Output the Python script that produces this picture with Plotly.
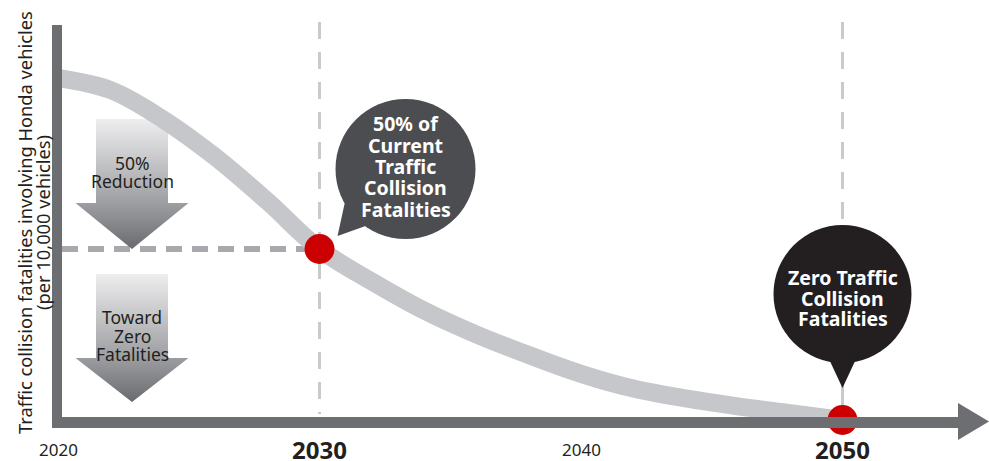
import plotly.graph_objects as go

# ---------------- data ----------------
years = [2020, 2022, 2024, 2026, 2028, 2030, 2032, 2034, 2036, 2038,
         2040, 2042, 2044, 2046, 2048, 2050]
fatalities = [100, 96.5, 88, 77, 64, 50, 40.5, 32, 25, 19,
              13.5, 9.2, 6.3, 4.0, 2.0, 0]
milestone_years = [2030, 2050]
milestone_values = [50, 0]
tick_years = [2020, 2030, 2040, 2050]
tick_labels = ["2020", "2030", "2040", "2050"]
tick_bold = [False, True, False, True]
bubble_texts = [["50% of", "Current", "Traffic", "Collision", "Fatalities"],
                ["Zero Traffic", "Collision", "Fatalities"]]
arrow_texts = [["50%", "Reduction"], ["Toward", "Zero", "Fatalities"]]
y_title = ["Traffic collision fatalities involving Honda vehicles",
           "(per 10,000 vehicles)"]

# ---------------- layout geometry ----------------
W, H = 989, 461
X0_PX, PX_PER_YEAR = 58, 26.15
Y0_PX, PX_PER_UNIT = 420, 3.42
FONT = "Noto Sans"
DARK = "#231f20"


def X(px):
    return 2020 + (px - X0_PX) / PX_PER_YEAR


def Y(py):
    return (Y0_PX - py) / PX_PER_UNIT


x_range = [X(0), X(W)]
y_range = [Y(H), Y(0)]

fig = go.Figure()

# gradient down arrows
arrow_cx = X(132)
half_shaft = 36 / PX_PER_YEAR
half_head = 56.5 / PX_PER_YEAR
arrow_specs = [(Y(119), Y(203), milestone_values[0]), (Y(274), Y(358), Y(402))]
for top, base, tip in arrow_specs:
    xs = [arrow_cx - half_shaft, arrow_cx + half_shaft, arrow_cx + half_shaft,
          arrow_cx + half_head, arrow_cx, arrow_cx - half_head,
          arrow_cx - half_shaft, arrow_cx - half_shaft]
    ys = [top, top, base, base, tip, base, base, top]
    fig.add_trace(go.Scatter(
        x=xs, y=ys, mode="lines", fill="toself", line=dict(width=0),
        fillgradient=dict(type="vertical",
                          colorscale=[[0, "#6a6b6f"], [0.35, "#9d9ea1"], [1, "#eeeeef"]]),
        hoverinfo="skip", showlegend=False))

# main curve
fig.add_trace(go.Scatter(
    x=years, y=fatalities, mode="lines",
    line=dict(color="#c6c7ca", width=18, shape="spline", smoothing=1.0),
    hoverinfo="skip", showlegend=False))

shapes = []
# dashed guide lines
for yr in milestone_years:
    shapes.append(dict(type="line", xref="x", yref="y", x0=yr, x1=yr,
                       y0=Y(22), y1=Y(414), layer="below",
                       line=dict(color="#c9cacc", width=3, dash="17px,13px")))
shapes.append(dict(type="line", xref="x", yref="y", x0=milestone_years[1], x1=milestone_years[1],
                   y0=Y(386), y1=milestone_values[1], layer="below",
                   line=dict(color="#c9cacc", width=3)))
shapes.append(dict(type="line", xref="x", yref="y", x0=X(62), x1=milestone_years[0],
                   y0=milestone_values[0], y1=milestone_values[0], layer="below",
                   line=dict(color="#a8a9ac", width=6, dash="16px,10px")))

# axes bars
AXIS = "#6d6e72"
shapes.append(dict(type="line", xref="x", yref="y", x0=X(57), x1=X(57),
                   y0=Y(25), y1=Y(427), layer="above", line=dict(color=AXIS, width=10)))
shapes.append(dict(type="line", xref="x", yref="y", x0=X(52), x1=X(962),
                   y0=Y(422.5), y1=Y(422.5), layer="above", line=dict(color=AXIS, width=11)))
shapes.append(dict(type="path", xref="x", yref="y", layer="above",
                   path=f"M {X(958)},{Y(403)} L {X(989)},{Y(421.5)} L {X(958)},{Y(440)} Z",
                   fillcolor=AXIS, line=dict(width=0)))

# speech bubbles (pixel offsets relative to milestone dots)
bubble_specs = [
    dict(dx=86, dy=80, r=70, color="#4c4d51",
         tail="M 46,23 L 18,13 L 25,45 L 86,80 Z", text_dy=2.5, spacing=21.3),
    dict(dx=0, dy=126, r=69, color="#231f20",
         tail="M -14,62 L 0,32 L 14,62 L 0,126 Z", text_dy=-4, spacing=20.5),
]
for (yr, val), b in zip(zip(milestone_years, milestone_values), bubble_specs):
    shapes.append(dict(type="circle", xref="x", yref="y", layer="above",
                       xsizemode="pixel", ysizemode="pixel", xanchor=yr, yanchor=val,
                       x0=b["dx"] - b["r"], x1=b["dx"] + b["r"],
                       y0=b["dy"] - b["r"], y1=b["dy"] + b["r"],
                       fillcolor=b["color"], line=dict(width=0)))
    shapes.append(dict(type="path", xref="x", yref="y", layer="above",
                       xsizemode="pixel", ysizemode="pixel", xanchor=yr, yanchor=val,
                       path=b["tail"], fillcolor=b["color"], line=dict(width=0)))

# milestone dots
fig.add_trace(go.Scatter(
    x=milestone_years, y=milestone_values, mode="markers",
    marker=dict(size=30, color="#cc0000", line=dict(width=0)),
    hoverinfo="skip", showlegend=False))

annotations = []
# bubble texts
for (yr, val), b, lines in zip(zip(milestone_years, milestone_values), bubble_specs, bubble_texts):
    n = len(lines)
    for i, t in enumerate(lines):
        off = (i - (n - 1) / 2) * b["spacing"]
        annotations.append(dict(x=yr, y=val, xref="x", yref="y", text=f"<b>{t}</b>",
                                showarrow=False, xanchor="center", yanchor="middle",
                                xshift=b["dx"], yshift=b["dy"] + b["text_dy"] - off,
                                font=dict(family=FONT, size=19.5, color="white")))

# arrow texts
arrow_text_rows = [[163, 181], [317, 336, 354]]
for lines, rows in zip(arrow_texts, arrow_text_rows):
    for t, py in zip(lines, rows):
        annotations.append(dict(x=arrow_cx, y=Y(py), xref="x", yref="y", text=t,
                                showarrow=False, xanchor="center", yanchor="middle",
                                font=dict(family=FONT, size=17.5, color=DARK)))

# year labels
for yr, lab, bold in zip(tick_years, tick_labels, tick_bold):
    annotations.append(dict(x=yr, y=Y(449), xref="x", yref="y",
                            text=f"<b>{lab}</b>" if bold else lab,
                            showarrow=False, xanchor="center", yanchor="middle",
                            font=dict(family=FONT, size=24 if bold else 17, color=DARK)))

# y-axis title
for t, px in zip(y_title, [24, 42]):
    annotations.append(dict(x=px / W, y=1 - 223 / H, xref="paper", yref="paper", text=t,
                            textangle=-90, showarrow=False, xanchor="center", yanchor="middle",
                            font=dict(family=FONT, size=18.3, color=DARK)))

fig.update_layout(
    width=W, height=H, margin=dict(l=0, r=0, t=0, b=0),
    paper_bgcolor="white", plot_bgcolor="white",
    xaxis=dict(range=x_range, visible=False, fixedrange=True),
    yaxis=dict(range=y_range, visible=False, fixedrange=True),
    shapes=shapes, annotations=annotations, showlegend=False,
)

fig.write_html("out.html")
